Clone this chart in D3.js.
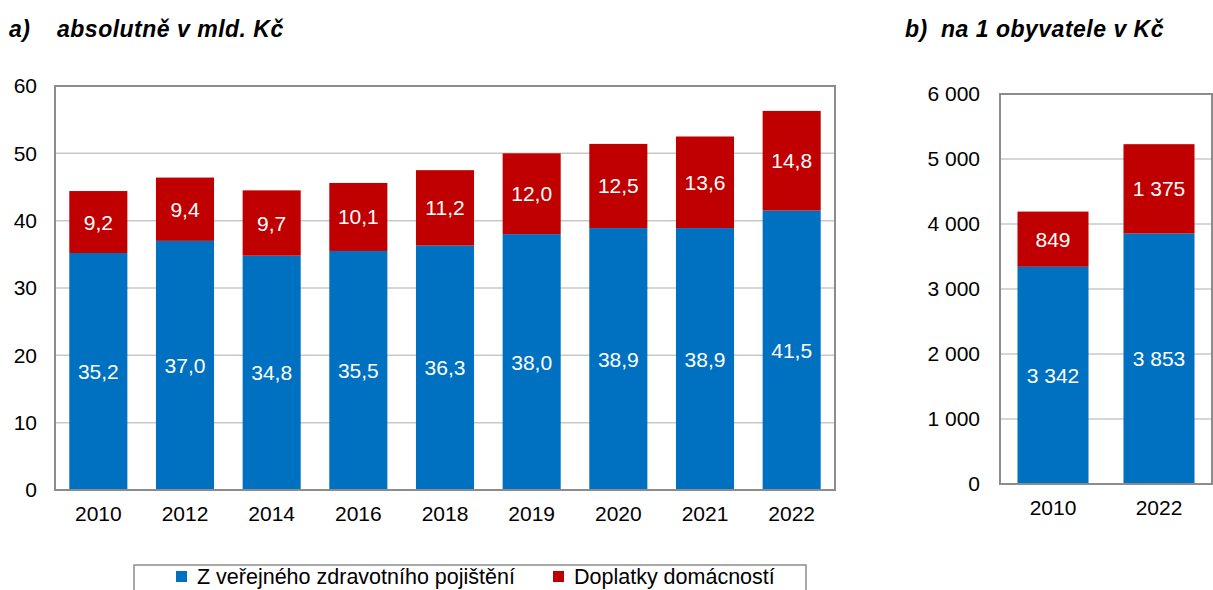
<!DOCTYPE html>
<html>
<head>
<meta charset="utf-8">
<script src="https://cdn.jsdelivr.net/npm/d3@7"></script>
<style>
  html, body { margin: 0; padding: 0; background: #fff; }
  svg { display: block; font-family: "Liberation Sans", Arial, sans-serif; }
</style>
</head>
<body>
<svg id="chart" width="1213" height="590"></svg>
<script>
// Health expenditure: public insurance vs household co-payments
const yearsA = ["2010", "2012", "2014", "2016", "2018", "2019", "2020", "2021", "2022"];
const publicA = [35.2, 37.0, 34.8, 35.5, 36.3, 38.0, 38.9, 38.9, 41.5];
const householdA = [9.2, 9.4, 9.7, 10.1, 11.2, 12.0, 12.5, 13.6, 14.8];
const ticksA = [0, 10, 20, 30, 40, 50, 60];

const yearsB = ["2010", "2022"];
const publicB = [3342, 3853];
const householdB = [849, 1375];
const ticksB = [0, 1000, 2000, 3000, 4000, 5000, 6000];

const seriesNames = ["Z veřejného zdravotního pojištění", "Doplatky domácností"];
const colors = ["#0070C0", "#C00000"];

const svg = d3.select("#chart");

const fmtA = v => d3.format(".1f")(v).replace(".", ",");
const fmtB = v => d3.format(",")(v).replace(/,/g, "\u00a0");

function panel(cfg) {
  const g = svg.append("g");
  const x = d3.scaleBand().domain(cfg.cats).range([cfg.x0, cfg.x1])
    .paddingInner(0.33).paddingOuter(0.165);
  const y = d3.scaleLinear().domain([0, cfg.max]).range([cfg.y0, cfg.y1]);

  // gridlines
  g.append("g").selectAll("line").data(cfg.ticks.filter(t => t > 0 && t < cfg.max)).join("line")
    .attr("x1", cfg.x0).attr("x2", cfg.x1)
    .attr("y1", d => y(d)).attr("y2", d => y(d))
    .attr("stroke", "#c8c8c8").attr("stroke-width", 1.5);

  // stacked bars
  const rows = cfg.cats.map((c, i) => ({ cat: c, a: cfg.pub[i], b: cfg.hh[i] }));
  const stack = d3.stack().keys(["a", "b"])(rows);
  stack.forEach((layer, li) => {
    const lg = g.append("g");
    lg.selectAll("rect").data(layer).join("rect")
      .attr("x", d => x(d.data.cat))
      .attr("width", x.bandwidth())
      .attr("y", d => y(d[1]))
      .attr("height", d => y(d[0]) - y(d[1]))
      .attr("fill", colors[li]);
    lg.selectAll("text").data(layer).join("text")
      .attr("x", d => x(d.data.cat) + x.bandwidth() / 2)
      .attr("y", d => (y(d[0]) + y(d[1])) / 2)
      .attr("text-anchor", "middle")
      .attr("dominant-baseline", "central")
      .attr("fill", "#fff")
      .attr("font-size", 21)
      .text(d => cfg.fmt(d[1] - d[0]));
  });

  // plot frame
  g.append("rect")
    .attr("x", cfg.x0).attr("y", cfg.y1)
    .attr("width", cfg.x1 - cfg.x0).attr("height", cfg.y0 - cfg.y1)
    .attr("fill", "none").attr("stroke", "#8c8c8c").attr("stroke-width", 2);

  // y axis labels
  const ya = d3.axisLeft(y).tickValues(cfg.ticks).tickSize(0).tickPadding(cfg.tickPad).tickFormat(cfg.tickFmt);
  const yg = g.append("g").attr("transform", `translate(${cfg.x0},0)`).call(ya);
  yg.select(".domain").remove();
  yg.selectAll("text").attr("font-size", 21).attr("fill", "#000").attr("font-family", "Liberation Sans, Arial, sans-serif");

  // x axis labels
  const xa = d3.axisBottom(x).tickSize(0).tickPadding(16);
  const xg = g.append("g").attr("transform", `translate(0,${cfg.y0})`).call(xa);
  xg.select(".domain").remove();
  xg.selectAll("text").attr("font-size", 21).attr("fill", "#000").attr("font-family", "Liberation Sans, Arial, sans-serif");
}

panel({ cats: yearsA, pub: publicA, hh: householdA, ticks: ticksA, max: 60,
  x0: 55, x1: 835, y0: 490, y1: 86, fmt: fmtA, tickFmt: d => d, tickPad: 18 });
panel({ cats: yearsB, pub: publicB, hh: householdB, ticks: ticksB, max: 6000,
  x0: 1000, x1: 1212, y0: 484, y1: 94, fmt: fmtB, tickFmt: fmtB, tickPad: 20 });

// panel titles
const title = svg.append("g").attr("font-weight", "bold").attr("font-style", "italic")
  .attr("font-size", 23).attr("letter-spacing", 0.5).attr("fill", "#000");
title.append("text").attr("x", 9).attr("y", 37).text("a)");
title.append("text").attr("x", 57).attr("y", 37).text("absolutně v mld. Kč");
title.append("text").attr("x", 905).attr("y", 37).text("b)");
title.append("text").attr("x", 941).attr("y", 37).text("na 1 obyvatele v Kč");

// legend
const leg = svg.append("g");
leg.append("rect").attr("x", 134).attr("y", 565).attr("width", 672).attr("height", 40)
  .attr("fill", "#fff").attr("stroke", "#8c8c8c").attr("stroke-width", 1.5);
const legX = [176, 553];
seriesNames.forEach((n, i) => {
  leg.append("rect").attr("x", legX[i]).attr("y", 571).attr("width", 11).attr("height", 11).attr("fill", colors[i]);
  leg.append("text").attr("x", legX[i] + 21).attr("y", 584).attr("font-size", 21.5).attr("fill", "#000").text(n);
});
</script>
</body>
</html>
